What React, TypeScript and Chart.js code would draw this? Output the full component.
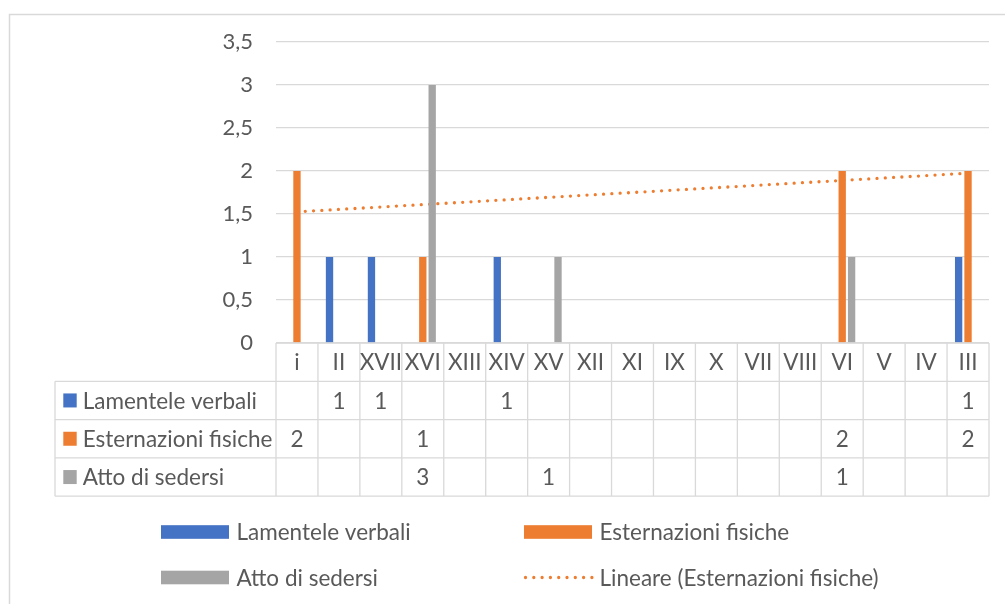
import React, { useEffect, useRef } from "react";
import { Chart, registerables } from "chart.js";

Chart.register(...registerables);

const categories = ["i", "II", "XVII", "XVI", "XIII", "XIV", "XV", "XII", "XI", "IX", "X", "VII", "VIII", "VI", "V", "IV", "III"];
const lamenteleVerbali = [null, 1, 1, null, null, 1, null, null, null, null, null, null, null, null, null, null, 1];
const esternazioniFisiche = [2, null, null, 1, null, null, null, null, null, null, null, null, null, 2, null, null, 2];
const attoDiSedersi = [null, null, null, 3, null, null, 1, null, null, null, null, null, null, 1, null, null, null];
const yTicks = [0, 0.5, 1, 1.5, 2, 2.5, 3, 3.5];

const seriesNames = ["Lamentele verbali", "Esternazioni fisiche", "Atto di sedersi"];
const trendName = "Lineare (Esternazioni fisiche)";
const colors = ["#4472C4", "#ED7D31", "#A5A5A5"];

const FONT = "Lato";
const FONT_SIZE = 22.5;
const TEXT = "#595959";
const LINE = "#D9D9D9";

// linear trendline (least squares) of the "Esternazioni fisiche" series
function trend(values: (number | null)[]): number[] {
  const pts = values.map((v, i) => [i, v] as [number, number | null]).filter((p) => p[1] !== null) as [number, number][];
  const n = pts.length;
  const mx = pts.reduce((s, p) => s + p[0], 0) / n;
  const my = pts.reduce((s, p) => s + p[1], 0) / n;
  let sxy = 0, sxx = 0;
  pts.forEach(([x, y]) => { sxy += (x - mx) * (y - my); sxx += (x - mx) * (x - mx); });
  const b = sxy / sxx;
  const a = my - b * mx;
  return values.map((_, i) => a + b * i);
}

const tablePlugin = {
  id: "excelTable",
  beforeDraw(chart: any) {
    const ctx = chart.ctx;
    ctx.save();
    ctx.strokeStyle = LINE;
    ctx.lineWidth = 1.5;
    ctx.strokeRect(9.5, 14.5, 1200, 800);
    ctx.restore();
  },
  afterDraw(chart: any) {
    const ctx = chart.ctx;
    const area = chart.chartArea;
    const n = categories.length;
    const cw = (area.right - area.left) / n;
    const top = area.bottom;
    const rowH = 38.3;
    const leftX = 55;
    const bottom = top + rowH * 4;
    ctx.save();
    ctx.strokeStyle = LINE;
    ctx.lineWidth = 1.3;
    ctx.beginPath();
    ctx.moveTo(area.left, top);
    ctx.lineTo(area.right, top);
    for (let r = 1; r <= 4; r++) {
      const y = top + r * rowH;
      ctx.moveTo(leftX, y);
      ctx.lineTo(area.right, y);
    }
    for (let k = 0; k <= n; k++) {
      const x = area.left + k * cw;
      ctx.moveTo(x, top);
      ctx.lineTo(x, bottom);
    }
    ctx.moveTo(leftX, top + rowH);
    ctx.lineTo(leftX, bottom);
    ctx.stroke();

    ctx.fillStyle = TEXT;
    ctx.font = `${FONT_SIZE}px ${FONT}`;
    ctx.textBaseline = "middle";
    ctx.textAlign = "center";
    categories.forEach((c, i) => {
      ctx.fillText(c, area.left + (i + 0.5) * cw, top + rowH / 2 + 1);
    });
    const rows = [lamenteleVerbali, esternazioniFisiche, attoDiSedersi];
    rows.forEach((vals, r) => {
      const yc = top + (r + 1.5) * rowH;
      ctx.textAlign = "center";
      ctx.fillStyle = TEXT;
      vals.forEach((v, i) => {
        if (v !== null) ctx.fillText(String(v), area.left + (i + 0.5) * cw, yc + 1);
      });
      ctx.fillStyle = colors[r];
      ctx.fillRect(63.3, yc - 7, 13.4, 14);
      ctx.fillStyle = TEXT;
      ctx.textAlign = "left";
      ctx.fillText(seriesNames[r], 82.7, yc + 1);
    });

    const items = [
      { x: 161, y: 532, type: "bar", color: colors[0], label: seriesNames[0] },
      { x: 524, y: 532, type: "bar", color: colors[1], label: seriesNames[1] },
      { x: 161, y: 577.5, type: "bar", color: colors[2], label: seriesNames[2] },
      { x: 524, y: 577.5, type: "line", color: colors[1], label: trendName },
    ];
    items.forEach((it) => {
      if (it.type === "bar") {
        ctx.fillStyle = it.color;
        ctx.fillRect(it.x, it.y - 6.8, 68, 13.6);
      } else {
        ctx.strokeStyle = it.color;
        ctx.lineWidth = 3.3;
        ctx.lineCap = "round";
        ctx.setLineDash([0, 8.3]);
        ctx.beginPath();
        ctx.moveTo(it.x + 1.5, it.y);
        ctx.lineTo(it.x + 68, it.y);
        ctx.stroke();
        ctx.setLineDash([]);
      }
      ctx.fillStyle = TEXT;
      ctx.textAlign = "left";
      ctx.fillText(it.label, it.x + 75.5, it.y + 1);
    });
    ctx.restore();
  },
};

export default function App() {
  const ref = useRef<HTMLCanvasElement | null>(null);
  useEffect(() => {
    if (!ref.current) return;
    const barCommon = { categoryPercentage: 0.672, barPercentage: 0.78, order: 0 };
    const chart = new Chart(ref.current, {
      type: "bar",
      data: {
        labels: categories,
        datasets: [
          { label: seriesNames[0], data: lamenteleVerbali, backgroundColor: colors[0], ...barCommon },
          { label: seriesNames[1], data: esternazioniFisiche, backgroundColor: colors[1], ...barCommon },
          { label: seriesNames[2], data: attoDiSedersi, backgroundColor: colors[2], ...barCommon },
          {
            type: "line",
            label: trendName,
            data: trend(esternazioniFisiche),
            borderColor: colors[1],
            borderWidth: 3.3,
            borderDash: [0, 8.3],
            borderCapStyle: "round",
            pointRadius: 0,
            fill: false,
            order: 1,
          } as any,
        ],
      },
      options: {
        animation: false,
        responsive: true,
        maintainAspectRatio: false,
        layout: { padding: { left: 0, top: 42, right: 16, bottom: 261 } },
        plugins: { legend: { display: false }, tooltip: { enabled: false } },
        scales: {
          x: { display: false, offset: true },
          y: {
            min: 0,
            max: 3.5,
            afterBuildTicks: (scale: any) => { scale.ticks = yTicks.map((v) => ({ value: v })); },
            afterFit: (scale: any) => { scale.width = 276; },
            border: { display: false },
            grid: { color: LINE, lineWidth: 1.2, drawTicks: false },
            ticks: {
              padding: 23,
              color: TEXT,
              font: { family: FONT, size: 22 },
              callback: (v: any) => String(v).replace(".", ","),
            },
          },
        },
      },
      plugins: [tablePlugin],
    });
    return () => chart.destroy();
  }, []);
  return (
    <div style={{ position: "absolute", left: 0, top: 0, width: 1005, height: 604, background: "#fff" }}>
      <canvas ref={ref} />
    </div>
  );
}
